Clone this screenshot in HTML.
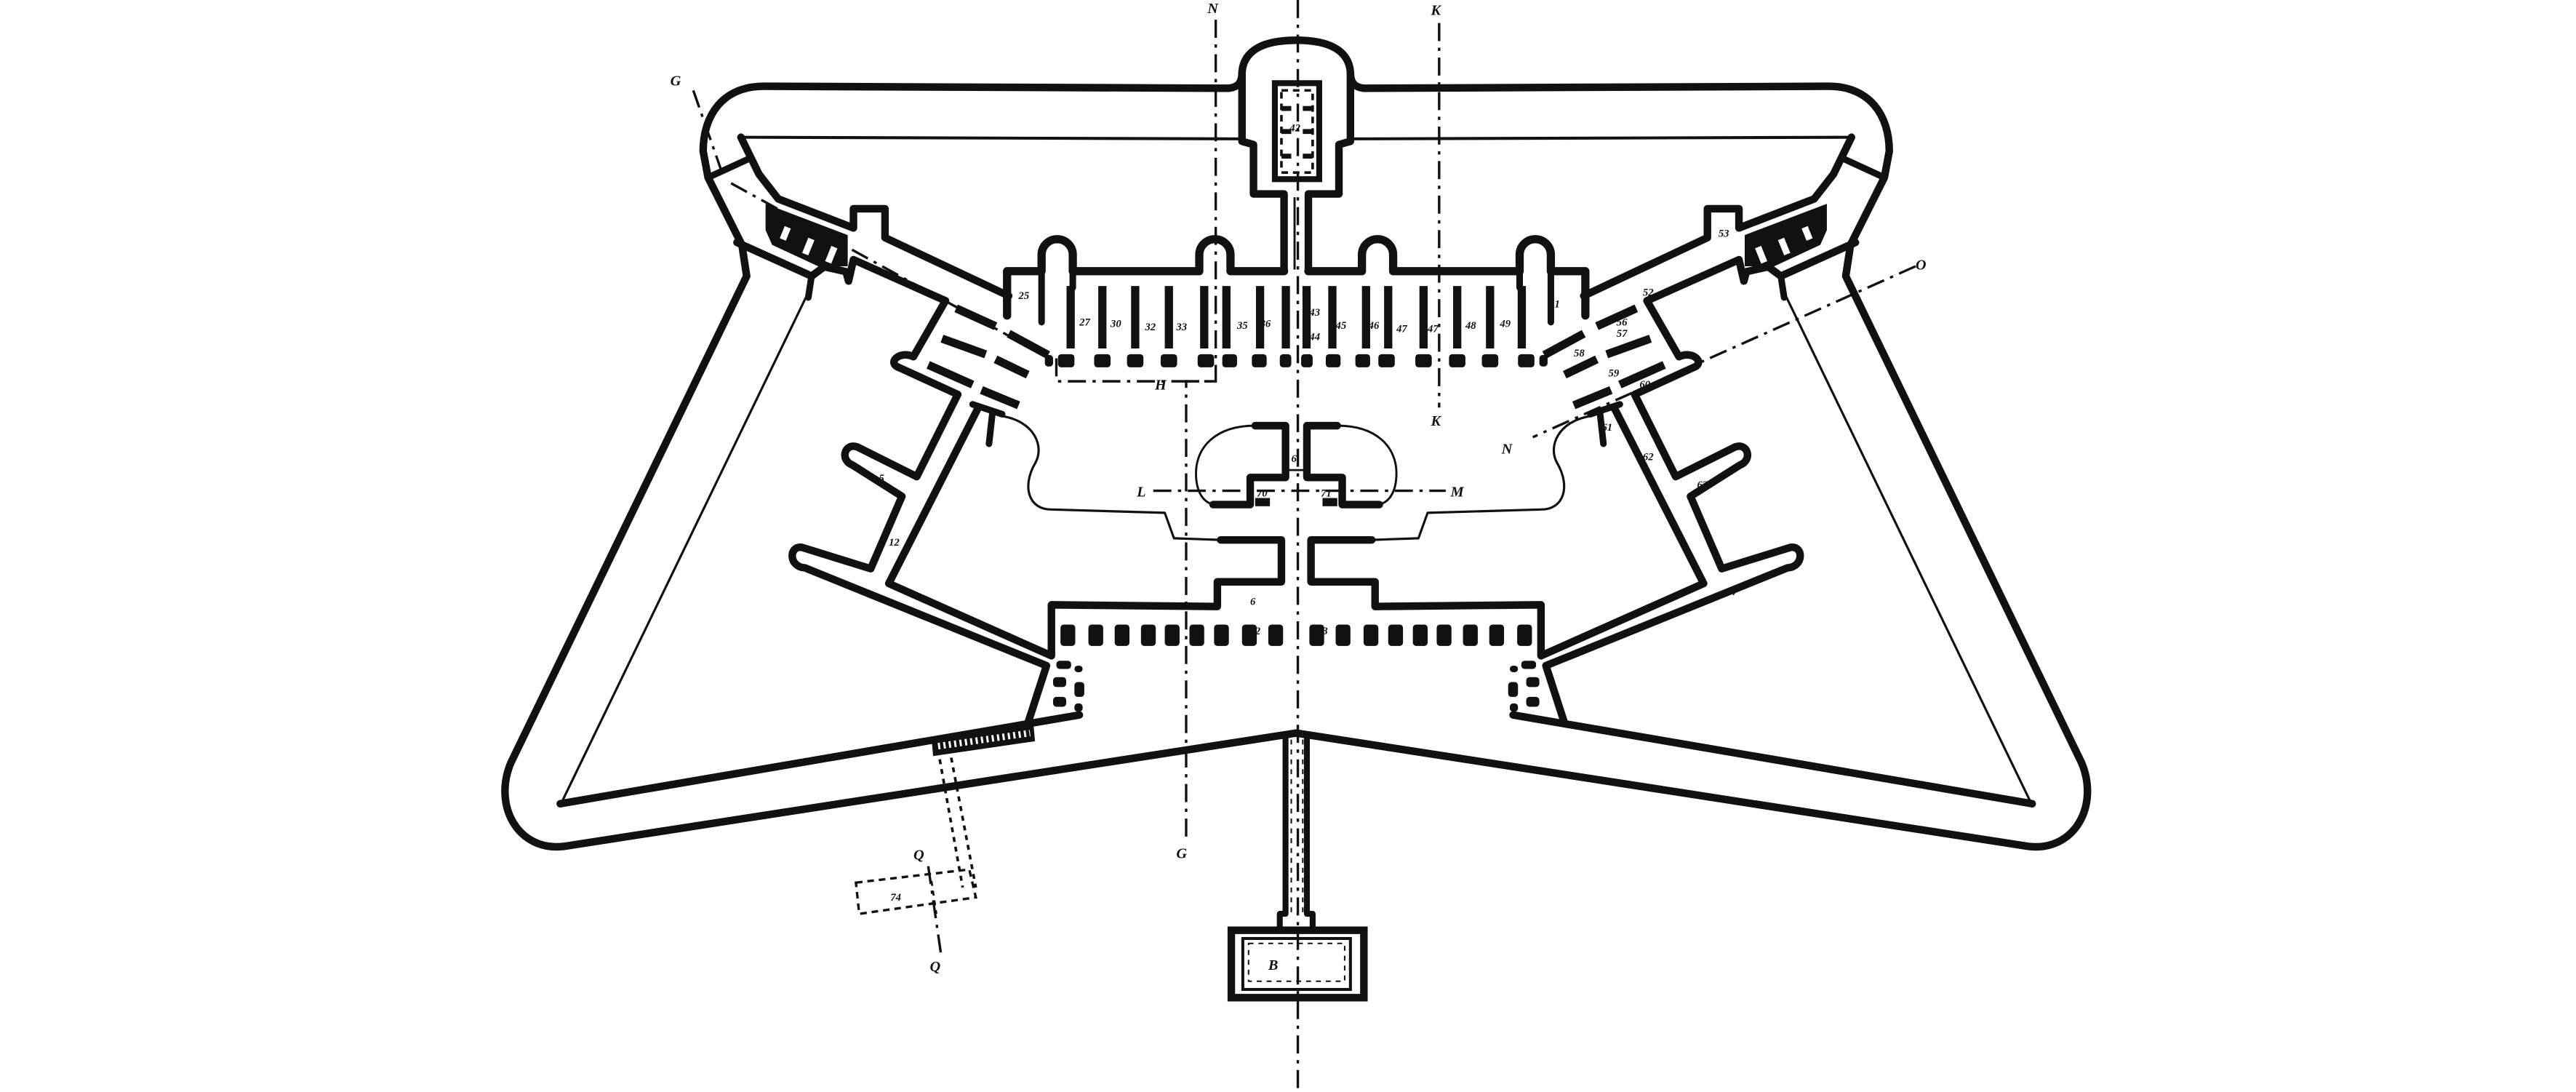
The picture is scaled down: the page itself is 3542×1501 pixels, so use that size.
<!DOCTYPE html>
<html><head><meta charset="utf-8"><style>
html,body{margin:0;padding:0;background:#fff;}
svg{display:block;}
text{font-family:"Liberation Serif",serif;font-style:italic;font-weight:bold;fill:#111;}
</style></head><body>
<svg width="3542" height="1501" viewBox="0 0 1568 664.4" preserveAspectRatio="none" xmlns="http://www.w3.org/2000/svg">
<rect x="0" y="0" width="1568" height="664.4" fill="#fff"/>
<defs>
<g id="half" fill="none" stroke="#111" stroke-linejoin="round" stroke-linecap="round">
  <path d="M748,53.7 L465,52.5 C440,52.5 428,70 428,92 L431,108 L451.6,149 L454.5,168 L311,464 C300,490 315,518 343,515 L789,446" stroke-width="4.6"/>
  <path d="M451,83.5 L756,84.5" stroke-width="1.8"/>
  <path d="M491,180 L341,490" stroke-width="1.4"/>
  <path d="M341,489 L657,435" stroke-width="4.6"/>
  <path d="M451,83.5 L462,106 L473.7,121 L519.5,138.7 L519.5,127 L538.7,127 L538.7,144.6 L614,180" stroke-width="4.6"/>
  <path d="M431,108 L455,97" stroke-width="4"/>
  <path d="M448.6,147.5 L494,168 L501.7,162.3 L515,165.3 L516.5,171 L519.5,158 L575.5,183 L556,217 C547,213 540,221 547,223.5 L583,240 L558,290 L522,272 C514,269 511,280 519,283 L549,302 L530,346 L488,333 C480,332 480,345 490,345.5 L637,405 L626,439" stroke-width="4.6"/>
  <path d="M595,249 L541,355 L640,399 L640,368 L741,369 L741,354 L780,354 L780,328.5 L743,328.5" stroke-width="4.6"/>
  <path d="M494,168 L492,181" stroke-width="4"/>
  <g stroke-width="5" stroke-linecap="butt">
    <path d="M582,187.6 L606,198.5"/><path d="M573.4,206 L600,215.6"/><path d="M565,222 L592,234"/>
    <path d="M614,203 L638,216"/><path d="M606,218.6 L625.6,228"/><path d="M597.4,237.3 L620,246.6"/>
  </g>
  <path d="M592,246 L610,252 M604,252 L602,270" stroke-width="4"/>
  <path d="M609,253 C630,256 636,272 630,282 C622,296 626,310 640,310 L709,312 L714.6,327.5 L743,328.5" stroke-width="1.4"/>
  <path d="M764,259 L782.5,259 L782.5,290.5 L761,290.5 L761,307 L738.4,307" stroke-width="4.6"/>
  <path d="M764,259 C740,259 728,272 728,288 C728,300 733,306 739,307" stroke-width="1.3"/>
  <path d="M613,192 L613,165 L634,165 L634,155 A9.5,9.5 0 0 1 653,155 L653,165 L730,165 L730,155 A9.5,9.5 0 0 1 749,155 L749,165 L781.6,165" stroke-width="5"/>
  <path d="M634,165 L634,196 M653,165 L653,175" stroke-width="4"/>
  <path d="M747.7,53.7 C754,53 756,50 756,44 C757,30 770,24.5 789,24.5" stroke-width="4.6"/>
  <path d="M756,44 L756,86 L763,88 L763,118 L781.6,118 L781.6,165" stroke-width="4.6"/>
  <path d="M782.5,447 L782.5,556 L779,556 L779,566" stroke-width="3.6"/>
  <g stroke-width="5" stroke-linecap="butt">
    <path d="M651.7,174 V212"/><path d="M671,174 V212"/><path d="M691,174 V212"/><path d="M711.5,174 V212"/>
    <path d="M733,174 V212"/><path d="M746.5,174 V212"/><path d="M767,174 V212"/><path d="M782.7,174 V212"/>
  </g>
  <g fill="#111" stroke="none">
    <rect x="644" y="215.5" width="10" height="8" rx="2"/><rect x="666" y="215.5" width="10" height="8" rx="2"/>
    <rect x="686" y="215.5" width="10" height="8" rx="2"/><rect x="706.5" y="215.5" width="10" height="8" rx="2"/>
    <rect x="729" y="215.5" width="10" height="8" rx="2"/><rect x="744" y="215.5" width="9" height="8" rx="2"/>
    <rect x="762" y="215.5" width="9" height="8" rx="2"/><rect x="779" y="215.5" width="7" height="8" rx="2"/>
    <rect x="636" y="216" width="5" height="7" rx="2"/>
    <rect x="645.5" y="380" width="9" height="13" rx="2"/><rect x="662.5" y="380" width="9" height="13" rx="2"/>
    <rect x="678.5" y="380" width="9" height="13" rx="2"/><rect x="694.5" y="380" width="9" height="13" rx="2"/>
    <rect x="709" y="380" width="9" height="13" rx="2"/><rect x="724" y="380" width="9" height="13" rx="2"/>
    <rect x="739" y="380" width="9" height="13" rx="2"/><rect x="756" y="380" width="9" height="13" rx="2"/>
    <rect x="772" y="380" width="9" height="13" rx="2"/>
    <rect x="643" y="402" width="9" height="5" rx="2"/><rect x="641" y="412" width="8" height="6" rx="2"/>
    <rect x="641" y="424" width="8" height="6" rx="2"/><rect x="654" y="405" width="5" height="4" rx="2"/>
    <rect x="654" y="415" width="6" height="9" rx="2"/><rect x="654" y="428" width="5" height="5" rx="2"/>
    <rect x="764" y="303" width="9" height="5"/>
    <polygon points="466,124 516,143 516,162 498,162 470,149 466,140"/>
  </g>
  <g fill="#fff" stroke="none">
    <rect x="476" y="138" width="4" height="8" transform="rotate(22 478 142)"/>
    <rect x="490" y="145" width="4" height="10" transform="rotate(22 492 150)"/>
    <rect x="504" y="150" width="4" height="10" transform="rotate(22 506 155)"/>
  </g>
</g>
</defs>
<use href="#half"/>
<use href="#half" transform="matrix(-1 0 0 1 1578 0)"/>
<g fill="none" stroke="#111">
  <rect x="776" y="50.6" width="27" height="58.4" stroke-width="3.6"/>
  <rect x="780" y="55" width="19" height="50" stroke-width="1.6" stroke-dasharray="4 3"/>
  <path d="M780,66 H786 M793,66 H799 M780,80 H786 M793,80 H799 M780,95 H786 M793,95 H799" stroke-width="3"/>
  <rect x="749.5" y="566" width="80.7" height="41" stroke-width="4.6"/>
  <rect x="756.5" y="571" width="65.5" height="31" stroke-width="1.8"/>
  <rect x="760" y="574" width="58.5" height="23" stroke-width="0.9" stroke-dasharray="3 3"/>
  <path d="M786,450 V556 M793,450 V556" stroke-width="0.9" stroke-dasharray="3 3"/>
  <path d="M788,120 V164" stroke-width="1.3"/>
  <path d="M783,286 H795" stroke-width="1.2"/>
  <g stroke-width="1.5" stroke-dasharray="11 4 2 4">
    <path d="M790,0 V664"/>
    <path d="M740,12 V232 L722,232 V510"/>
    <path d="M876,14 V248"/>
    <path d="M422,55 L440.7,108.4 M445,111.5 L640,218.6"/>
    <path d="M1166,162 L933,266"/>
    <path d="M702,298.6 H880"/>
    <path d="M565,527 L573,582"/>
    <path d="M643,218 V232 H739"/>
  </g>
  <path d="M572,462 L586,540 M579,461 L594,540" stroke-width="1.6" stroke-dasharray="3 3"/>
  <polygon points="521,537 590,529 594,546 523,556" stroke-width="1.5" stroke-dasharray="4 3"/>
  <path d="M567,536 L570,556" stroke-width="1.2" stroke-dasharray="3 3"/>
</g>
<polygon points="567,449 629,440 630,451 568,460" fill="#111"/>
<path d="M571,454 L627,446" stroke="#fff" stroke-width="4" stroke-dasharray="1.3 2" fill="none"/>
<g font-size="9">
  <text x="408" y="52">G</text>
  <text x="1166" y="164">O</text>
  <text x="914" y="276">N</text>
  <text x="692" y="302">L</text>
  <text x="883" y="302">M</text>
  <text x="703" y="237">H</text>
  <text x="716" y="522">G</text>
  <text x="735" y="8">N</text>
  <text x="871" y="9">K</text>
  <text x="871" y="259">K</text>
  <text x="772" y="590">B</text>
  <text x="556" y="523">Q</text>
  <text x="566" y="591">Q</text>
</g>
<g font-size="6.5">
  <text x="542" y="548">74</text>
  <text x="786" y="281">6</text>
  <text x="765" y="302">70</text>
  <text x="804" y="302">71</text>
  <text x="620" y="182">25</text>
  <text x="657" y="198">27</text>
  <text x="676" y="199">30</text>
  <text x="697" y="201">32</text>
  <text x="716" y="201">33</text>
  <text x="753" y="200">35</text>
  <text x="767" y="199">36</text>
  <text x="797" y="192">43</text>
  <text x="797" y="207">44</text>
  <text x="813" y="200">45</text>
  <text x="833" y="200">46</text>
  <text x="850" y="202">47</text>
  <text x="869" y="202">47</text>
  <text x="892" y="200">48</text>
  <text x="913" y="199">49</text>
  <text x="943" y="187">51</text>
  <text x="1000" y="180">52</text>
  <text x="984" y="198">56</text>
  <text x="984" y="205">57</text>
  <text x="958" y="217">58</text>
  <text x="979" y="229">59</text>
  <text x="998" y="236">60</text>
  <text x="975" y="262">61</text>
  <text x="1000" y="280">62</text>
  <text x="1033" y="297">63</text>
  <text x="1050" y="362">64</text>
  <text x="535" y="293">5</text>
  <text x="541" y="332">12</text>
  <text x="761" y="368">6</text>
  <text x="764" y="386">2</text>
  <text x="805" y="386">3</text>
  <text x="785" y="80">42</text>
  <text x="1100" y="133">54</text>
  <text x="1046" y="144">53</text>
</g>
</svg>
</body></html>
